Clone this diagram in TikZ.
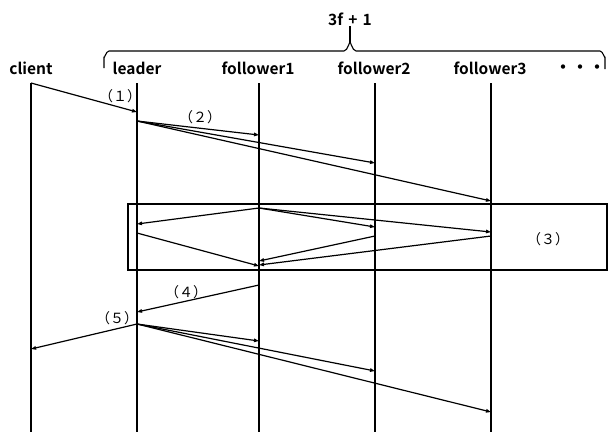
\documentclass[tikz,border=0pt]{standalone}
\usepackage{fontspec}
\setmainfont{Noto Sans CJK JP}[BoldFont={Noto Sans CJK JP Bold}]
\usetikzlibrary{arrows.meta,positioning}
\tikzset{
  lane/.style={line width=1.3pt},
  head/.style={font=\fontsize{15.5}{17}\selectfont\bfseries, inner sep=0pt},
  msg/.style={-{Triangle[length=5pt,width=3.5pt]}, line width=1.2pt},
  msglabel/.style={font=\fontsize{14}{16}\selectfont, inner sep=0pt},
  phasebox/.style={draw, line width=1.6pt, inner sep=0pt},
  bracepath/.style={line width=1.1pt, line join=round}
}
\begin{document}
\begin{tikzpicture}[x=1pt, y=-1pt]
  \useasboundingbox (0,0) rectangle (609,432);
  % replicas
  \node[head] (client) at (31,68) {client};
  \node[head] (leader) at (137,68) {leader};
  \node[head] (follower1) at (258,68) {follower1};
  \node[head] (follower2) at (374,68) {follower2};
  \node[head] (follower3) at (490,68) {follower3};
  \node[font=\fontsize{17}{17}\selectfont\bfseries, inner sep=0pt] (more) at (580,69) {・・・};
  \node[head] (quorum) at (350,19) {3f\,\,+\,\,1};
  % brace over the 3f+1 replicas
  \coordinate (tip) at (350,43);
  \draw[bracepath] (104,68) -- (104,57) to[out=-90,in=180] (109,51) -- (344,51)
    to[out=0,in=90] (tip) to[out=90,in=180] (356,51) -- (600,51)
    to[out=0,in=-90] (605,57) -- (605,69);
  \draw[bracepath] (tip) -- (quorum.south);
  % lifelines
  \foreach \n/\x in {client/31,leader/137,follower1/259,follower2/375,follower3/491}
    \draw[lane] (\x,83) coordinate (\n-top) -- (\x,432) coordinate (\n-end);
  % message points
  \foreach \n/\x/\y in {req/137/112, pp-s/137/121, pp-1/259/135, pp-2/375/163, pp-3/491/201,
      pr-s/259/208, pr-0/137/224, pr-2/375/227, pr-3/491/232,
      cm-0/137/233, cm-2/375/236, cm-3/491/236, cm-e0/259/266, cm-e2/259/261, cm-e3/259/265,
      rp-s/259/285, rp-e/137/312,
      rep-s/137/324, rep-c/31/349, rep-1/259/341, rep-2/375/371, rep-3/491/412}
    \coordinate (\n) at (\x,\y);
  % (1) request
  \draw[msg] (client-top) -- (req);
  \node[msglabel] (l1) at (120,96) {（１）};
  % (2) pre-prepare
  \foreach \t in {1,2,3}
    \draw[msg] (pp-s) -- (pp-\t);
  \node[msglabel] (l2) at (200,117) {（２）};
  % (3) prepare / commit
  \node[phasebox, minimum width=479pt, minimum height=66pt] (phase) at (367.5,237) {};
  \foreach \t in {0,2,3}
    \draw[msg] (pr-s) -- (pr-\t);
  \foreach \t in {0,2,3}
    \draw[msg] (cm-\t) -- (cm-e\t);
  \node[msglabel] (l3) at (548,239) {（３）};
  % (4) reply to leader
  \draw[msg] (rp-s) -- (rp-e);
  \node[msglabel] (l4) at (186,292) {（４）};
  % (5) leader replies
  \foreach \t in {c,1,2,3}
    \draw[msg] (rep-s) -- (rep-\t);
  \node[msglabel] (l5) at (117,318) {（５）};
\end{tikzpicture}
\end{document}
